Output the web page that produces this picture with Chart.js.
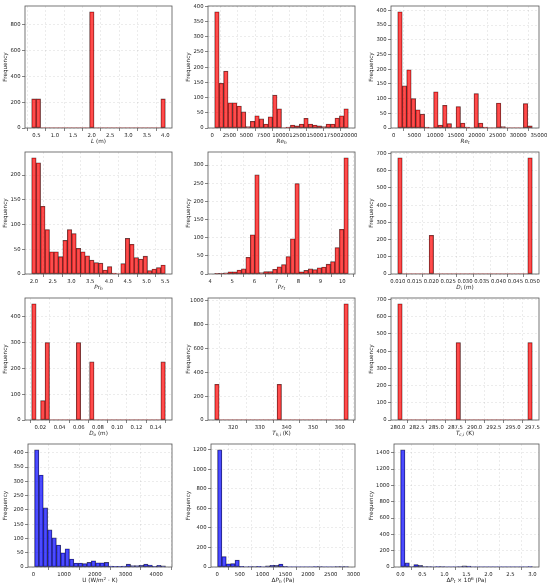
<!DOCTYPE html>
<html>
<head>
<meta charset="utf-8">
<script src="https://cdn.jsdelivr.net/npm/chart.js@4.4.1/dist/chart.umd.min.js"></script>
<style>
  body { margin: 0; background: #fff; }
  #grid { position: relative; width: 550px; height: 588px; }
  #grid canvas { position: absolute; }
</style>
</head>
<body>
<div id="grid"></div>
<script>
// each histogram: 30 bin counts, data range [min, max], x tick labels
const lRange = [0.37, 4.0];
const lCounts = [225,225,0,0,0,0,0,0,0,0,0,0,0,900,0,0,0,0,0,0,0,0,0,0,0,0,0,0,0,225];
const lTicks = [0.5,1.0,1.5,2.0,2.5,3.0,3.5,4.0];

const reHRange = [350, 19900];
const reHCounts = [382,147,187,83,83,72,53,5,22,40,30,13,37,108,63,0,3,10,7,13,32,13,10,7,5,13,13,33,40,63];
const reHTicks = [0,2500,5000,7500,10000,12500,15000,17500,20000];

const reTRange = [1000, 33400];
const reTCounts = [395,143,198,100,62,47,3,0,123,10,77,15,0,73,17,3,0,117,17,3,0,0,85,5,0,0,0,0,83,7];
const reTTicks = [0,5000,10000,15000,20000,25000,30000,35000];

const prHRange = [1.94, 5.5];
const prHCounts = [235,225,137,90,45,45,35,68,90,82,52,45,37,28,23,22,8,15,2,0,21,72,60,33,30,36,7,10,13,18];
const prHTicks = [2.0,2.5,3.0,3.5,4.0,4.5,5.0,5.5];

const prTRange = [4.2, 10.27];
const prTCounts = [2,2,3,6,6,11,14,46,108,273,4,7,7,13,20,26,48,97,249,6,10,14,12,17,19,27,34,73,123,320];
const prTTicks = [4,5,6,7,8,9,10];

const diRange = [0.01, 0.05];
const diCounts = [675,0,0,0,0,0,0,225,0,0,0,0,0,0,0,0,0,0,0,0,0,0,0,0,0,0,0,0,0,675];
const diTicks = [0.010,0.015,0.020,0.025,0.030,0.035,0.040,0.045,0.050];

const doRange = [0.011, 0.15];
const doCounts = [450,0,75,300,0,0,0,0,0,0,300,0,0,225,0,0,0,0,0,0,0,0,0,0,0,0,0,0,0,225];
const doTicks = [0.02,0.04,0.06,0.08,0.10,0.12,0.14];

const thRange = [313.15, 363.15];
const thCounts = [300,0,0,0,0,0,0,0,0,0,0,0,0,0,300,0,0,0,0,0,0,0,0,0,0,0,0,0,0,975];
const thTicks = [320,330,340,350,360];

const tcRange = [280, 297.5];
const tcCounts = [675,0,0,0,0,0,0,0,0,0,0,0,0,450,0,0,0,0,0,0,0,0,0,0,0,0,0,0,0,450];
const tcTicks = [280.0,282.5,285.0,287.5,290.0,292.5,295.0,297.5];

const uRange = [40, 4300];
const uCounts = [410,322,207,130,102,77,50,64,28,14,14,12,16,22,15,15,16,3,2,2,3,10,5,5,6,10,7,2,6,4];
const uTicks = [0,1000,2000,3000,4000];

const dphRange = [10, 2890];
const dphCounts = [1200,107,33,35,70,8,0,5,2,6,0,12,17,17,30,8,0,0,0,0,0,0,3,2,0,0,0,2,2,2];
const dphTicks = [0,500,1000,1500,2000,2500,3000];

const dptRange = [0.003, 3.0];
const dptCounts = [1435,50,3,30,20,2,1,0,5,2,0,0,0,2,15,12,0,0,0,0,0,0,0,0,0,0,0,0,0,5];
const dptTicks = [0.0,0.5,1.0,1.5,2.0,2.5,3.0];

const RED = 'rgba(255,0,0,0.7)';
const BLUE = 'rgba(0,0,255,0.7)';

// title segments: [text, style] where i = italic, s = subscript, p = superscript
const panels = [
  { counts: lCounts, range: lRange, ticks: lTicks, dec: 1, yStep: 200, fill: RED, title: [['L','i'],[' (m)','']] },
  { counts: reHCounts, range: reHRange, ticks: reHTicks, dec: 0, yStep: 50, fill: RED, title: [['Re','i'],['h','si']] },
  { counts: reTCounts, range: reTRange, ticks: reTTicks, dec: 0, yStep: 50, fill: RED, title: [['Re','i'],['t','si']] },
  { counts: prHCounts, range: prHRange, ticks: prHTicks, dec: 1, yStep: 50, fill: RED, title: [['Pr','i'],['h','si']] },
  { counts: prTCounts, range: prTRange, ticks: prTTicks, dec: 0, yStep: 50, fill: RED, title: [['Pr','i'],['t','si']] },
  { counts: diCounts, range: diRange, ticks: diTicks, dec: 3, yStep: 100, fill: RED, title: [['D','i'],['i','si'],[' (m)','']] },
  { counts: doCounts, range: doRange, ticks: doTicks, dec: 2, yStep: 100, fill: RED, title: [['D','i'],['o','si'],[' (m)','']] },
  { counts: thCounts, range: thRange, ticks: thTicks, dec: 0, yStep: 200, fill: RED, title: [['T','i'],['h,i','si'],[' (K)','']] },
  { counts: tcCounts, range: tcRange, ticks: tcTicks, dec: 1, yStep: 100, fill: RED, title: [['T','i'],['c,i','si'],[' (K)','']] },
  { counts: uCounts, range: uRange, ticks: uTicks, dec: 0, yStep: 50, fill: BLUE, title: [['U (W/m',''],['2','p'],[' \u00b7 K)','']] },
  { counts: dphCounts, range: dphRange, ticks: dphTicks, dec: 0, yStep: 200, fill: BLUE, title: [['\u0394',''],['P','i'],['h','si'],[' (Pa)','']] },
  { counts: dptCounts, range: dptRange, ticks: dptTicks, dec: 1, yStep: 200, fill: BLUE, title: [['\u0394',''],['P','i'],['t','si'],[' \u00d7 10',''],['6','p'],[' (Pa)','']] }
];

Chart.defaults.font.family = '"DejaVu Sans", sans-serif';
Chart.defaults.font.size = 5.3;
Chart.defaults.color = '#222';

const framePlugin = {
  id: 'frame',
  afterDraw(chart) {
    const { ctx, chartArea: a } = chart;
    ctx.save();
    ctx.strokeStyle = '#555';
    ctx.lineWidth = 0.8;
    ctx.strokeRect(a.left, a.top, a.right - a.left, a.bottom - a.top);
    ctx.restore();
  }
};

const xTitlePlugin = {
  id: 'xTitle',
  afterDraw(chart, args, opts) {
    const { ctx, chartArea: a } = chart;
    const fontFor = (s) => (s.includes('i') ? 'italic ' : '') +
      (s.includes('s') || s.includes('p') ? 4.2 : 5.7) + 'px "DejaVu Sans"';
    ctx.save();
    let total = 0;
    opts.segs.forEach(([t, s]) => { ctx.font = fontFor(s); total += ctx.measureText(t).width; });
    let x = (a.left + a.right) / 2 - total / 2;
    const y = a.bottom + 15;
    ctx.fillStyle = '#222';
    ctx.textBaseline = 'alphabetic';
    opts.segs.forEach(([t, s]) => {
      ctx.font = fontFor(s);
      const dy = s.includes('s') ? 1.3 : s.includes('p') ? -2.4 : 0;
      ctx.fillText(t, x, y + dy);
      x += ctx.measureText(t).width;
    });
    ctx.restore();
  }
};

const grid = document.getElementById('grid');
const gridOpts = { color: 'rgba(0,0,0,0.13)', lineWidth: 0.6, tickColor: '#333', tickLength: 3, tickWidth: 0.6 };

panels.forEach((p, k) => {
  const col = k % 3, row = Math.floor(k / 3);
  const h = row === 3 ? 150 : 146;
  const w = col === 2 ? 184 : 183;
  const cv = document.createElement('canvas');
  cv.width = w; cv.height = h;
  cv.style.width = w + 'px'; cv.style.height = h + 'px';
  cv.style.left = (col * 183) + 'px';
  cv.style.top = (row * 146) + 'px';
  grid.appendChild(cv);

  const [lo, hi] = p.range;
  const bw = (hi - lo) / p.counts.length;
  const pad = (hi - lo) * 0.05;
  const data = p.counts.map((c, i) => ({ x: lo + (i + 0.5) * bw, y: c }));
  const yMax = Math.max(...p.counts) * 1.05;
  const yTicks = [];
  for (let v = 0; v <= yMax; v += p.yStep) yTicks.push(v);

  new Chart(cv, {
    type: 'bar',
    data: {
      datasets: [{
        data,
        backgroundColor: p.fill,
        borderColor: 'rgba(0,0,0,0.7)',
        borderWidth: (c) => (c.raw && c.raw.y ? 0.6 : 0),
        borderSkipped: false,
        barPercentage: 1,
        categoryPercentage: 1
      }]
    },
    options: {
      responsive: false,
      animation: false,
      layout: { padding: { top: 6, right: 11, left: 2, bottom: 0 } },
      plugins: {
        legend: { display: false },
        tooltip: { enabled: false },
        xTitle: { segs: p.title }
      },
      scales: {
        x: {
          type: 'linear',
          offset: false,
          min: lo - pad,
          max: hi + pad,
          afterBuildTicks: (s) => { s.ticks = p.ticks.map((v) => ({ value: v })); },
          afterFit: (s) => { s.height = row === 3 ? 21 : 18; },
          ticks: { callback: (v) => Number(v).toFixed(p.dec), padding: 1, maxRotation: 0, autoSkip: false },
          grid: gridOpts,
          border: { display: false, dash: [2, 2] }
        },
        y: {
          min: 0,
          max: yMax,
          afterBuildTicks: (s) => { s.ticks = yTicks.map((v) => ({ value: v })); },
          afterFit: (s) => { s.width = row === 3 ? 26 : 23; },
          ticks: { callback: (v) => Number(v).toFixed(0), padding: 1.5, autoSkip: false },
          grid: gridOpts,
          border: { display: false, dash: [2, 2] },
          title: { display: true, text: 'Frequency', font: { size: 5.7 }, padding: { top: 0, bottom: 1 } }
        }
      }
    },
    plugins: [framePlugin, xTitlePlugin]
  });
});
</script>
</body>
</html>
